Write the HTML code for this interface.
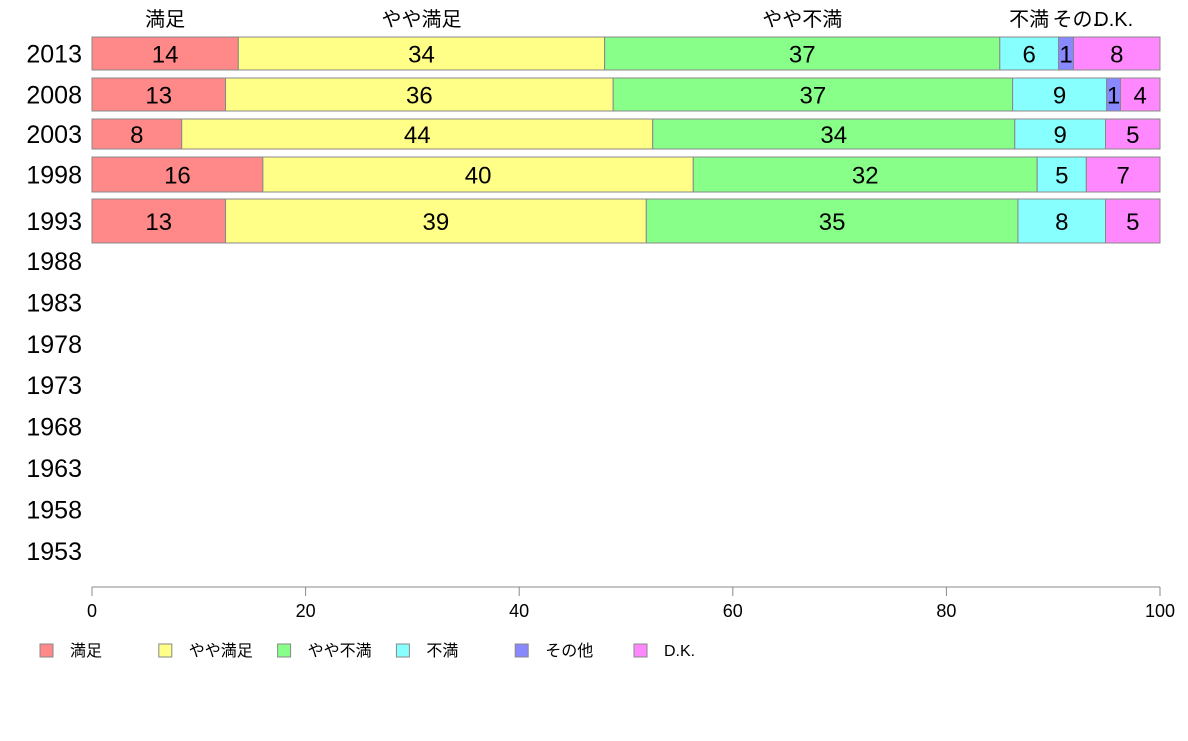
<!DOCTYPE html>
<html><head><meta charset="utf-8"><style>
body{margin:0;background:#fff;width:1188px;height:736px;overflow:hidden;font-family:"Liberation Sans","Noto Sans CJK JP",sans-serif}
</style></head><body>
<svg id="c" width="1188" height="736" xmlns="http://www.w3.org/2000/svg"></svg>
<script>
const categories = ["満足","やや満足","やや不満","不満","その他","D.K."];
const years = ["2013","2008","2003","1998","1993","1988","1983","1978","1973","1968","1963","1958","1953"];
const v2013 = [13.7,34.3,37.0,5.5,1.4,8.1];
const v2008 = [12.5,36.3,37.4,8.8,1.3,3.7];
const v2003 = [8.4,44.1,33.9,8.5,0,5.1];
const v1998 = [16.0,40.3,32.2,4.6,0,6.9];
const v1993 = [12.5,39.4,34.8,8.2,0,5.1];
const seriesValues = [v2013,v2008,v2003,v1998,v1993];
const xTicks = [0,20,40,60,80,100];
const colors = ["#FF8888","#FFFF88","#88FF88","#88FFFF","#8888FF","#FF88FF"];
const barTop = [37,78,119,157,199];
const barBot = [70,111,149,192,243];
const NS="http://www.w3.org/2000/svg", svg=document.getElementById('c');
const x = v => 92 + v*10.68;
const yLabel = i => 54 + i*41.3 + (i===4?6:0) + (i>=5?9:0);
function mk(t,a,txt){const e=document.createElementNS(NS,t);for(const k in a)e.setAttribute(k,a[k]);if(txt!==undefined)e.textContent=txt;svg.appendChild(e);return e;}
years.forEach((y,i)=>{
  const yy = i<5 ? (barTop[i]+barBot[i])/2 : 54+i*41.4;
  const t=mk('text',{x:82,y:yy+9,'text-anchor':'end','font-size':25,fill:'#000'},y);
  
  
});
seriesValues.forEach((vals,r)=>{
  let acc=0;
  vals.forEach((v,k)=>{
    if(v<=0)return;
    const r1=mk('rect',{x:x(acc),y:barTop[r],width:x(acc+v)-x(acc),height:barBot[r]-barTop[r],fill:colors[k],stroke:'#888','stroke-width':1});
    
    
    const t=mk('text',{x:(x(acc)+x(acc+v))/2,y:(barTop[r]+barBot[r])/2+9,'text-anchor':'middle','font-size':24,fill:'#000'},Math.round(v));
    
    
    acc+=v;
  });
});
// top labels over 2013 segments
{let acc=0;const names=["満足","やや満足","やや不満","不満","その..","D.K."];
v2013.forEach((v,k)=>{const cx=(x(acc)+x(acc+v))/2;acc+=v;
 const t=mk('text',{x:cx+(k===3?0:(k===4?12:(k===5?-3:0))),y:26,'text-anchor':'middle','font-size':20,fill:'#000'},names[k]);
 
 });}
// x axis
const ax=mk('line',{x1:92,x2:1160,y1:587,y2:587,stroke:'#888','stroke-width':1});


xTicks.forEach(v=>{
  const l=mk('line',{x1:x(v),x2:x(v),y1:587,y2:596,stroke:'#888'});
  
  
  const t=mk('text',{x:x(v),y:617,'text-anchor':'middle','font-size':18,fill:'#000'},v);
  
  
});
// legend
categories.forEach((c,k)=>{
  const lx=40+k*118.8;
  const r=mk('rect',{x:lx,y:644,width:13,height:13,fill:colors[k],stroke:'#888'});
  
  
  const t=mk('text',{x:lx+30,y:656,'font-size':16,fill:'#000'},c);
  
  
});
</script>
</body></html>
